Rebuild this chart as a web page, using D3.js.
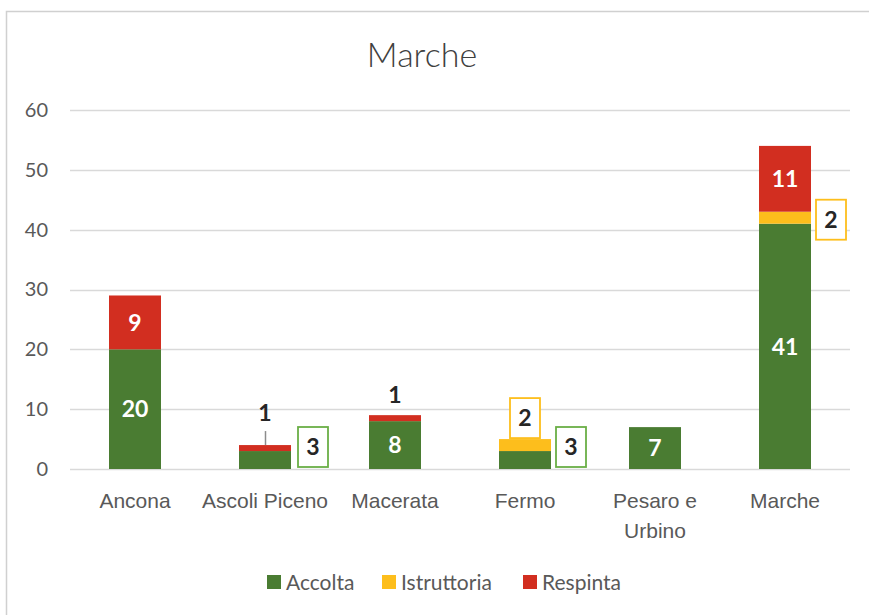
<!DOCTYPE html>
<html>
<head>
<meta charset="utf-8">
<script src="https://cdn.jsdelivr.net/npm/d3@7"></script>
<style>
  body { margin: 0; background: #fff; }
  svg { display: block; font-family: Lato, "Liberation Sans", sans-serif; }
</style>
</head>
<body>
<div id="chart"></div>
<script>
const categories = ['Ancona', 'Ascoli Piceno', 'Macerata', 'Fermo', 'Pesaro e Urbino', 'Marche']
const accolta = [20, 3, 8, 3, 7, 41]
const istruttoria = [0, 0, 0, 2, 0, 2]
const respinta = [9, 1, 1, 0, 0, 11]
const seriesNames = ['Accolta', 'Istruttoria', 'Respinta']
const colors = ['#4a7c32', '#fdbe1c', '#d22e20']
const yTicks = [0, 10, 20, 30, 40, 50, 60]

const W = 869, H = 615
const svg = d3.select('#chart').append('svg').attr('width', W).attr('height', H)

// chart border (cropped on the right and bottom)
svg.append('rect')
  .attr('x', 6.5).attr('y', 11.5).attr('width', W + 10).attr('height', H + 10)
  .attr('fill', '#fff').attr('stroke', '#d0d0d0').attr('stroke-width', 1.5)

svg.append('text')
  .attr('x', 422).attr('y', 67).attr('text-anchor', 'middle')
  .attr('font-size', 34).attr('font-weight', 300).attr('fill', '#404040')
  .text('Marche')

const x = d3.scaleBand().domain(categories).range([70, 850]).paddingInner(0.6).paddingOuter(0.3)
const y = d3.scaleLinear().domain([0, 60]).range([469, 110])

// gridlines
svg.append('g').selectAll('line').data(yTicks).join('line')
  .attr('x1', 70).attr('x2', 850)
  .attr('y1', d => Math.round(y(d)) + 0.5).attr('y2', d => Math.round(y(d)) + 0.5)
  .attr('stroke', '#d9d9d9').attr('stroke-width', 1.5)

const yAxis = svg.append('g').attr('transform', 'translate(70,0)')
  .call(d3.axisLeft(y).tickValues(yTicks).tickSize(0).tickPadding(22))
yAxis.select('.domain').remove()
yAxis.selectAll('text').attr('font-size', 20).attr('fill', '#595959').attr('font-family', 'Lato, sans-serif')

// x category labels (wrap "Pesaro e Urbino")
const xAxis = svg.append('g').attr('transform', 'translate(0,469)')
  .call(d3.axisBottom(x).tickSize(0).tickPadding(0))
xAxis.select('.domain').remove()
xAxis.selectAll('text').remove()
xAxis.selectAll('.tick').each(function (d) {
  const lines = d === 'Pesaro e Urbino' ? ['Pesaro e', 'Urbino'] : [d]
  const t = d3.select(this).append('text')
    .attr('text-anchor', 'middle').attr('font-size', 21).attr('fill', '#595959')
  lines.forEach((l, i) => t.append('tspan').attr('x', 0).attr('y', 39 + i * 30).text(l))
})

// stacked bars
const rows = categories.map((c, i) => ({ cat: c, Accolta: accolta[i], Istruttoria: istruttoria[i], Respinta: respinta[i] }))
const stacked = d3.stack().keys(seriesNames)(rows)
svg.append('g').selectAll('g').data(stacked).join('g')
  .attr('fill', (d, i) => colors[i])
  .selectAll('rect').data(d => d.filter(p => p[1] > p[0])).join('rect')
    .attr('x', d => x(d.data.cat))
    .attr('width', x.bandwidth())
    .attr('y', d => y(d[1]))
    .attr('height', d => y(d[0]) - y(d[1]))

// data labels
const boxes = svg.append('g')
const lbl = svg.append('g').attr('font-weight', 700).attr('font-size', 23).attr('text-anchor', 'middle')
const cx = c => x(c) + x.bandwidth() / 2

// white labels inside segments
stacked.forEach(s => {
  s.forEach(p => {
    const v = p[1] - p[0]
    if (v < 5) return
    lbl.append('text')
      .attr('x', cx(p.data.cat)).attr('y', (y(p[0]) + y(p[1])) / 2)
      .attr('dy', '0.36em').attr('fill', '#fff').text(v)
  })
})

// boxed callouts to the right / above small segments
const boxLabel = (px, py, val, stroke) => {
  boxes.append('rect').attr('x', px - 15).attr('y', py - 20).attr('width', 30).attr('height', 40)
    .attr('fill', '#fff').attr('stroke', stroke).attr('stroke-width', 1.8)
  lbl.append('text').attr('x', px).attr('y', py).attr('dy', '0.36em').attr('fill', '#262626').text(val)
}
const ia = categories.indexOf('Ascoli Piceno')
const iF = categories.indexOf('Fermo')
const iM = categories.indexOf('Marche')
const iMc = categories.indexOf('Macerata')

boxLabel(x(categories[ia]) + x.bandwidth() + 22, y(0) - 22, accolta[ia], '#6aaf46')
boxLabel(x(categories[iF]) + x.bandwidth() + 20, y(0) - 22, accolta[iF], '#6aaf46')
boxLabel(cx(categories[iF]), y(accolta[iF] + istruttoria[iF]) - 21, istruttoria[iF], '#fdbe1c')
boxLabel(x(categories[iM]) + x.bandwidth() + 20, y(accolta[iM] + istruttoria[iM] / 2) + 2, istruttoria[iM], '#fdbe1c')

// Respinta labels above small bars
const topA = y(accolta[ia] + istruttoria[ia] + respinta[ia])
svg.append('line').attr('x1', cx(categories[ia]) + 0.5).attr('x2', cx(categories[ia]) + 0.5)
  .attr('y1', topA - 14).attr('y2', topA).attr('stroke', '#8c8c8c').attr('stroke-width', 1.5)
lbl.append('text').attr('x', cx(categories[ia])).attr('y', topA - 32).attr('dy', '0.36em')
  .attr('fill', '#262626').text(respinta[ia])
const topM = y(accolta[iMc] + istruttoria[iMc] + respinta[iMc])
lbl.append('text').attr('x', cx(categories[iMc])).attr('y', topM - 20).attr('dy', '0.36em')
  .attr('fill', '#262626').text(respinta[iMc])

// legend
const legendX = [267, 382, 523]
const leg = svg.append('g').selectAll('g').data(seriesNames).join('g')
  .attr('transform', (d, i) => `translate(${legendX[i]},575)`)
leg.append('rect').attr('width', 14).attr('height', 14).attr('fill', (d, i) => colors[i])
leg.append('text').attr('x', 19).attr('y', 7).attr('dy', '0.36em')
  .attr('font-size', 21).attr('fill', '#595959').text(d => d)
</script>
</body>
</html>
